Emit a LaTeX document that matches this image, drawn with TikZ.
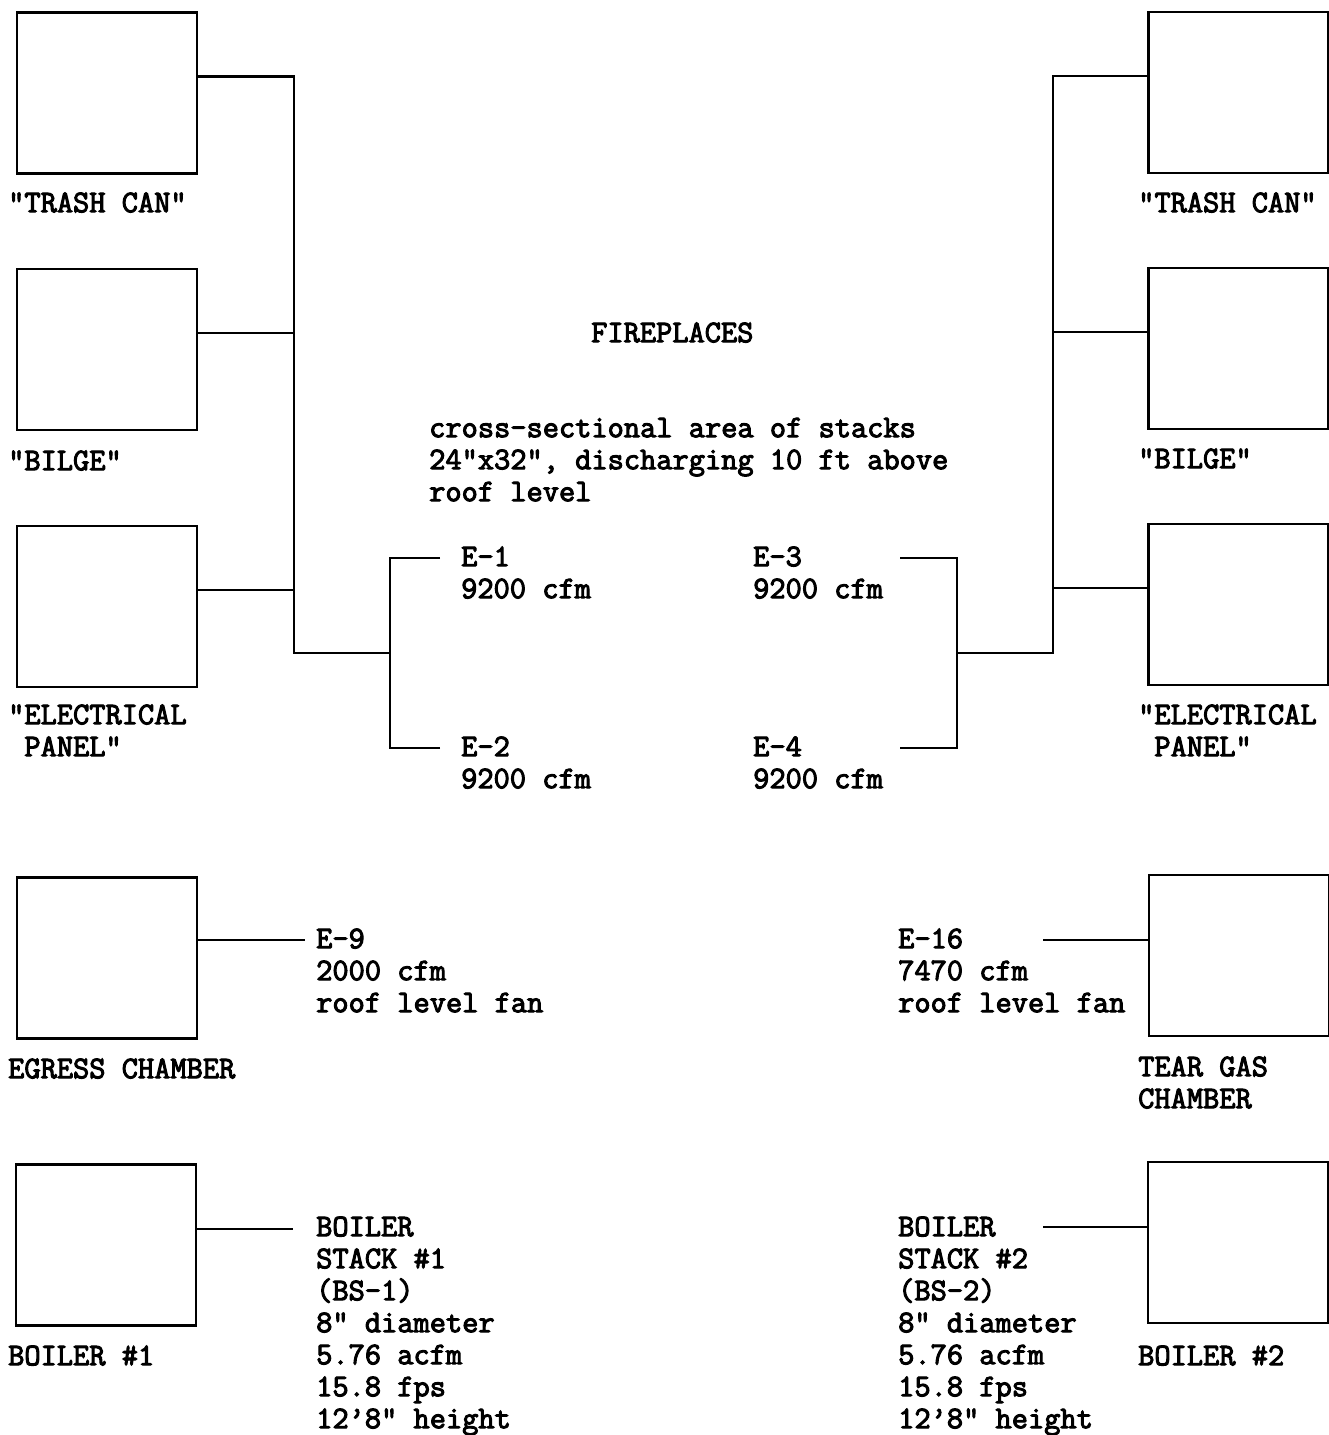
\documentclass[tikz,border=0pt]{standalone}
\usepackage{fontspec}
\setmonofont{Latin Modern Mono}[AutoFakeBold=3.2]
\newcommand\tstrut{\rule{0pt}{20pt}}
\begin{document}
\begin{tikzpicture}[x=1pt,y=-1pt,
  box/.style={draw, line width=2.2pt, minimum width=180pt, minimum height=161pt, inner sep=0pt},
  txt/.style={anchor=north west, inner sep=0pt, align=left, font=\ttfamily\bfseries\fontsize{31.5}{32}\selectfont},
  wire/.style={line width=2.2pt}]
\useasboundingbox (0,0) rectangle (1329,1435);
% boxes
\node[box] (tcL) at (107,93) {};
\node[box] (bgL) at (107,349.5) {};
\node[box] (elL) at (107,606.5) {};
\node[box] (tcR) at (1238.5,92.5) {};
\node[box] (bgR) at (1238.5,348.5) {};
\node[box] (elR) at (1238.5,604.5) {};
\node[box] (egr) at (107,958) {};
\node[box] (tgc) at (1239,955.5) {};
\node[box] (bo1) at (106,1245) {};
\node[box] (bo2) at (1238,1242.5) {};
% labels under boxes
\node[txt] (ltcL) at (8,192) {\tstrut"TRASH CAN"};
\node[txt] (lbgL) at (8,450) {\tstrut"BILGE"};
\node[txt] (lelL) at (8,704) {\tstrut"ELECTRICAL\\~PANEL"};
\node[txt] (ltcR) at (1138,192) {\tstrut"TRASH CAN"};
\node[txt] (lbgR) at (1138,448) {\tstrut"BILGE"};
\node[txt] (lelR) at (1138,704) {\tstrut"ELECTRICAL\\~PANEL"};
\node[txt] (legr) at (8,1058) {\tstrut EGRESS CHAMBER};
\node[txt] (ltgc) at (1138,1056) {\tstrut TEAR GAS\\CHAMBER};
\node[txt] (lbo1) at (8,1345) {\tstrut BOILER \#1};
\node[txt] (lbo2) at (1138,1345) {\tstrut BOILER \#2};
% central texts
\node[txt] (fire) at (591,322) {\tstrut FIREPLACES};
\node[txt] (cross) at (429,417) {\tstrut cross-sectional area of stacks\\24"x32", discharging 10 ft above\\roof level};
\node[txt] (e1) at (461,546) {\tstrut E-1\\9200 cfm};
\node[txt] (e2) at (461,736) {\tstrut E-2\\9200 cfm};
\node[txt] (e3) at (753,546) {\tstrut E-3\\9200 cfm};
\node[txt] (e4) at (753,736) {\tstrut E-4\\9200 cfm};
\node[txt] (e9) at (316,928) {\tstrut E-9\\2000 cfm\\roof level fan};
\node[txt] (e16) at (898,928) {\tstrut E-16\\7470 cfm\\roof level fan};
\node[txt] (bs1) at (316,1216) {\tstrut BOILER\\STACK \#1\\(BS-1)\\8" diameter\\5.76 acfm\\15.8 fps\\12’8" height};
\node[txt] (bs2) at (898,1216) {\tstrut BOILER\\STACK \#2\\(BS-2)\\8" diameter\\5.76 acfm\\15.8 fps\\12’8" height};
% junction coordinates
\coordinate (busL) at (294,653);
\coordinate (jL) at (390,653);
\coordinate (e1end) at (440,558);
\coordinate (e2end) at (440,748);
\coordinate (busR) at (1053,653);
\coordinate (jR) at (957,653);
\coordinate (e3end) at (900,558);
\coordinate (e4end) at (900,748);
\coordinate (e9end) at (305,940);
\coordinate (e16end) at (1043,940);
\coordinate (bs1end) at (293,1229);
\coordinate (bs2end) at (1043,1227);
% left manifold
\draw[wire] ([yshift=16.5pt]tcL.east) -| (busL) -- (jL);
\draw[wire] ([yshift=16.5pt]bgL.east) -| (busL);
\draw[wire] ([yshift=16.5pt]elL.east) -| (busL);
\draw[wire] (e1end) -| (jL);
\draw[wire] (e2end) -| (jL);
% right manifold
\draw[wire] ([yshift=16.5pt]tcR.west) -| (busR) -- (jR);
\draw[wire] ([yshift=16.5pt]bgR.west) -| (busR);
\draw[wire] ([yshift=16.5pt]elR.west) -| (busR);
\draw[wire] (e3end) -| (jR);
\draw[wire] (e4end) -| (jR);
% single stacks
\draw[wire] ([yshift=18pt]egr.east) -- (e9end);
\draw[wire] (e16end) -- ([yshift=15.5pt]tgc.west);
\draw[wire] ([yshift=16pt]bo1.east) -- (bs1end);
\draw[wire] (bs2end) -- ([yshift=15.5pt]bo2.west);
\end{tikzpicture}
\end{document}
